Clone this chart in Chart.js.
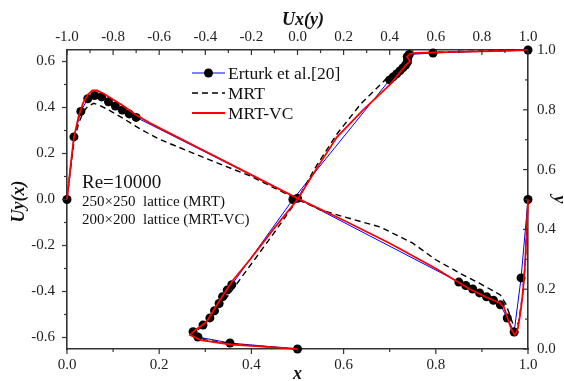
<!DOCTYPE html>
<html>
<head>
<meta charset="utf-8">
<script src="https://cdn.jsdelivr.net/npm/chart.js@4.4.1/dist/chart.umd.min.js"></script>
<style>
  html, body { margin: 0; padding: 0; background: #fff; }
  canvas { display: block; }
</style>
</head>
<body>
<canvas id="cavity" width="564" height="381"></canvas>
<script>
// v-velocity along the horizontal centreline: Uy(x)
var erturkX  = [0, 0.015, 0.03, 0.045, 0.06, 0.075, 0.09, 0.105, 0.12, 0.135, 0.15, 0.5, 0.85, 0.865, 0.88, 0.895, 0.91, 0.925, 0.94, 0.955, 0.97, 0.985, 1];
var erturkUy = [0, 0.272, 0.383, 0.438, 0.452, 0.446, 0.425, 0.406, 0.389, 0.372, 0.357, 0.005, -0.359, -0.374, -0.389, -0.406, -0.423, -0.438, -0.458, -0.515, -0.576, -0.341, 0];

var mrtX  = [0, 0.008, 0.015, 0.025, 0.035, 0.045, 0.058, 0.07, 0.09, 0.12, 0.16, 0.2, 0.3, 0.4, 0.46, 0.5, 0.55, 0.6, 0.68, 0.75, 0.8, 0.85, 0.9, 0.94, 0.952, 0.962, 0.972, 0.98, 0.988, 0.994, 1];
var mrtUy = [0, 0.14, 0.25, 0.33, 0.38, 0.405, 0.418, 0.41, 0.39, 0.355, 0.305, 0.262, 0.18, 0.1, 0.04, 0, -0.045, -0.075, -0.12, -0.19, -0.262, -0.318, -0.37, -0.415, -0.455, -0.51, -0.57, -0.53, -0.42, -0.28, 0];

var vcX  = [0, 0.008, 0.015, 0.025, 0.035, 0.045, 0.055, 0.065, 0.08, 0.1, 0.12, 0.15, 0.18, 0.3, 0.4, 0.5, 0.6, 0.7, 0.8, 0.83, 0.874, 0.91, 0.939, 0.948, 0.957, 0.965, 0.972, 0.978, 0.983, 0.988, 0.993, 0.997, 1];
var vcUy = [0, 0.15, 0.27, 0.36, 0.42, 0.455, 0.474, 0.474, 0.46, 0.435, 0.41, 0.367, 0.332, 0.21, 0.107, 0.005, -0.09, -0.19, -0.3, -0.337, -0.39, -0.425, -0.45, -0.47, -0.524, -0.57, -0.589, -0.56, -0.5, -0.42, -0.3, -0.15, 0];

// u-velocity along the vertical centreline: Ux(y)
var erturkY  = [0, 0.02, 0.04, 0.058, 0.08, 0.104, 0.128, 0.152, 0.175, 0.197, 0.215, 0.5, 0.9, 0.91, 0.92, 0.93, 0.94, 0.95, 0.96, 0.97, 0.978, 0.985, 0.99, 1];
var erturkUx = [0, -0.293, -0.432, -0.453, -0.41, -0.38, -0.36, -0.34, -0.325, -0.305, -0.285, -0.02, 0.4, 0.415, 0.43, 0.444, 0.457, 0.469, 0.477, 0.478, 0.476, 0.485, 0.588, 1];

var mrtY  = [0, 0.006, 0.015, 0.03, 0.05, 0.075, 0.11, 0.19, 0.29, 0.39, 0.5, 0.61, 0.72, 0.82, 0.9, 0.945, 0.962, 0.976, 0.986, 0.99, 0.994, 1];
var mrtUx = [0, -0.11, -0.26, -0.4, -0.445, -0.42, -0.37, -0.29, -0.195, -0.1, 0, 0.08, 0.172, 0.275, 0.38, 0.455, 0.478, 0.47, 0.49, 0.52, 0.65, 1];

var vcY  = [0, 0.007, 0.015, 0.03, 0.047, 0.065, 0.09, 0.16, 0.23, 0.3, 0.4, 0.5, 0.6, 0.709, 0.8, 0.883, 0.946, 0.963, 0.977, 0.987, 0.99, 0.993, 0.997, 1];
var vcUx = [0, -0.13, -0.29, -0.42, -0.466, -0.44, -0.395, -0.34, -0.28, -0.205, -0.105, 0, 0.08, 0.171, 0.285, 0.4, 0.466, 0.488, 0.475, 0.488, 0.51, 0.64, 0.9, 1];

// axis ticks
var bottomTicks = [0, 0.2, 0.4, 0.6, 0.8, 1.0];
var leftTicks   = [-0.6, -0.4, -0.2, 0, 0.2, 0.4, 0.6];
var topTicks    = [-1.0, -0.8, -0.6, -0.4, -0.2, 0, 0.2, 0.4, 0.6, 0.8, 1.0];
var rightTicks  = [0, 0.2, 0.4, 0.6, 0.8, 1.0];

var legendNames = ['Erturk et al.[20]', 'MRT', 'MRT-VC'];
var notes = ['Re=10000', '250\u00d7250  lattice (MRT)', '200\u00d7200  lattice (MRT-VC)'];

function pairs(xs, ys) {
    return xs.map(function (v, i) { return { x: v, y: ys[i] }; });
}

function minorsOf(ticks) {
    var out = [];
    for (var i = 0; i < ticks.length - 1; i++) out.push((ticks[i] + ticks[i + 1]) / 2);
    return out;
}

var SERIF = '"Liberation Serif", "Times New Roman", serif';
var AXIS_COLOR = '#333';

var erturkStyle = { borderColor: '#0000ff', borderWidth: 1, pointRadius: 4.5, pointBackgroundColor: '#000', pointBorderColor: '#000', pointBorderWidth: 0, order: 2 };
var mrtStyle = { borderColor: '#000', borderWidth: 1.4, borderDash: [6, 4], pointRadius: 0, order: 1 };
var vcStyle = { borderColor: '#ff0000', borderWidth: 1.8, pointRadius: 0, order: 0 };

function makeSet(label, data, style, xId, yId) {
    return Object.assign({
        label: label,
        data: data,
        showLine: true,
        tension: 0,
        clip: false,
        xAxisID: xId,
        yAxisID: yId
    }, style);
}

var datasets = [
    makeSet(legendNames[2], pairs(vcX, vcUy), vcStyle, 'x', 'y'),
    makeSet(legendNames[2], pairs(vcUx, vcY), vcStyle, 'xTop', 'yRight'),
    makeSet(legendNames[1], pairs(mrtX, mrtUy), mrtStyle, 'x', 'y'),
    makeSet(legendNames[1], pairs(mrtUx, mrtY), mrtStyle, 'xTop', 'yRight'),
    makeSet(legendNames[0], pairs(erturkX, erturkUy), erturkStyle, 'x', 'y'),
    makeSet(legendNames[0], pairs(erturkUx, erturkY), erturkStyle, 'xTop', 'yRight')
];

function axis(position, min, max, ticks, size, pad) {
    return {
        type: 'linear',
        position: position,
        min: min,
        max: max,
        grid: { display: false, drawTicks: false },
        border: { display: true, color: AXIS_COLOR, width: 1.6 },
        afterBuildTicks: function (scale) {
            scale.ticks = ticks.map(function (v) { return { value: v }; });
        },
        afterFit: function (scale) {
            if (position === 'left' || position === 'right') scale.width = size;
            else scale.height = size;
        },
        ticks: {
            padding: pad,
            color: '#222',
            font: { family: SERIF, size: 15 },
            callback: function (v) { return Number(v).toFixed(1); }
        }
    };
}

// tick marks: bottom/left point outward, top/right point inward
var tickMarks = {
    id: 'tickMarks',
    afterDraw: function (chart) {
        var ctx = chart.ctx, a = chart.chartArea, s = chart.scales;
        ctx.save();
        ctx.strokeStyle = AXIS_COLOR;
        ctx.lineWidth = 1.2;
        function marks(scale, ticks, len) {
            ticks.forEach(function (v) {
                var p = scale.getPixelForValue(v);
                ctx.beginPath();
                if (scale.id === 'x') { ctx.moveTo(p, a.bottom); ctx.lineTo(p, a.bottom + len); }
                if (scale.id === 'xTop') { ctx.moveTo(p, a.top); ctx.lineTo(p, a.top + len); }
                if (scale.id === 'y') { ctx.moveTo(a.left, p); ctx.lineTo(a.left - len, p); }
                if (scale.id === 'yRight') { ctx.moveTo(a.right, p); ctx.lineTo(a.right - len, p); }
                ctx.stroke();
            });
        }
        marks(s.x, bottomTicks, 5); marks(s.x, minorsOf(bottomTicks), 3);
        marks(s.y, leftTicks, 5); marks(s.y, minorsOf(leftTicks), 3);
        marks(s.xTop, topTicks, 5); marks(s.xTop, minorsOf(topTicks), 3);
        marks(s.yRight, rightTicks, 5); marks(s.yRight, minorsOf(rightTicks), 3);
        ctx.restore();
    }
};

// axis titles, legend and the run notes
var decorations = {
    id: 'decorations',
    afterDraw: function (chart) {
        var ctx = chart.ctx, a = chart.chartArea;
        var cx = (a.left + a.right) / 2, cy = (a.top + a.bottom) / 2;
        ctx.save();
        ctx.fillStyle = '#111';
        ctx.textBaseline = 'middle';
        ctx.textAlign = 'center';
        ctx.font = 'italic bold 18px ' + SERIF;
        ctx.fillText('x', cx, 374);
        ctx.fillText('Ux(y)', 303, 20);
        ctx.save();
        ctx.translate(19, cy + 2);
        ctx.rotate(-Math.PI / 2);
        ctx.fillText('Uy(x)', 0, 0);
        ctx.restore();
        ctx.save();
        ctx.translate(559, cy);
        ctx.rotate(Math.PI / 2);
        ctx.fillText('y', 0, 0);
        ctx.restore();

        // legend, styled from the datasets themselves
        var rows = [chart.data.datasets[4], chart.data.datasets[2], chart.data.datasets[0]];
        ctx.textAlign = 'left';
        ctx.font = '17.5px ' + SERIF;
        rows.forEach(function (ds, i) {
            var y = 73 + i * 20;
            ctx.save();
            ctx.strokeStyle = ds.borderColor;
            ctx.lineWidth = ds.borderWidth;
            ctx.setLineDash(ds.borderDash || []);
            ctx.beginPath();
            ctx.moveTo(192, y);
            ctx.lineTo(225, y);
            ctx.stroke();
            if (ds.pointRadius) {
                ctx.fillStyle = ds.pointBackgroundColor;
                ctx.beginPath();
                ctx.arc(208.5, y, ds.pointRadius, 0, Math.PI * 2);
                ctx.fill();
            }
            ctx.restore();
            ctx.fillText(ds.label, 228, y + 1);
        });

        ctx.font = '19px ' + SERIF;
        ctx.fillText(notes[0], 82, 183);
        ctx.font = '15px ' + SERIF;
        ctx.fillText(notes[1], 82, 202);
        ctx.fillText(notes[2], 82, 220);
        ctx.restore();
    }
};

new Chart(document.getElementById('cavity').getContext('2d'), {
    type: 'scatter',
    data: { datasets: datasets },
    options: {
        responsive: false,
        animation: false,
        layout: { padding: 0 },
        plugins: { legend: { display: false }, tooltip: { enabled: false } },
        scales: {
            x: axis('bottom', 0, 1, bottomTicks, 32, 7),
            y: axis('left', -0.65, 0.65, leftTicks, 67, 12),
            xTop: axis('top', -1, 1, topTicks, 50, 4),
            yRight: axis('right', 0, 1, rightTicks, 36, 9)
        }
    },
    plugins: [tickMarks, decorations]
});
</script>
</body>
</html>
